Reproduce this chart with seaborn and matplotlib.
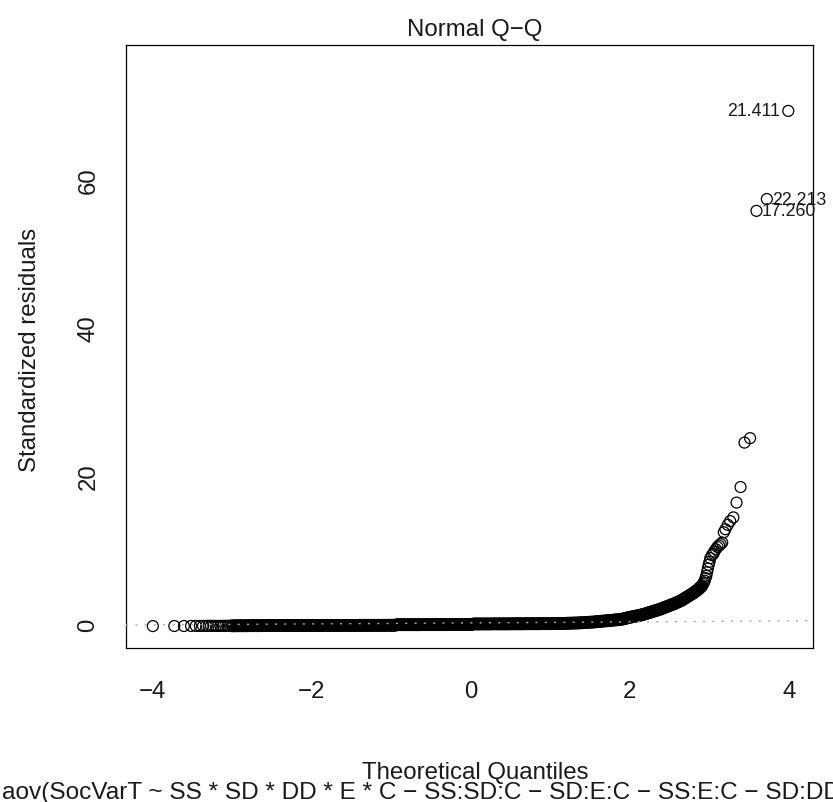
import matplotlib
matplotlib.use("Agg")
import matplotlib.pyplot as plt
import seaborn as sns
import pandas as pd

# ---------------- data ----------------
# left tail (individual circles)
tail_left_x = [-3.99, -3.72, -3.60, -3.51, -3.45, -3.40, -3.36, -3.32, -3.29, -3.26, -3.23]
tail_left_y = [-0.28, -0.27, -0.27, -0.26, -0.26, -0.26, -0.26, -0.25, -0.25, -0.25, -0.25]

# dense central band
band_x = [-3.20, -3.17, -3.14, -3.11, -3.08, -3.05, -3.02, -2.99, -2.96, -2.93,
          -2.90, -2.87, -2.84, -2.81, -2.78, -2.75, -2.72, -2.69, -2.66, -2.63,
          -2.60, -2.57, -2.54, -2.51, -2.48, -2.45, -2.42, -2.39, -2.36, -2.33,
          -2.30, -2.27, -2.24, -2.21, -2.18, -2.15, -2.12, -2.09, -2.06, -2.03,
          -2.00, -1.97, -1.94, -1.91, -1.88, -1.85, -1.82, -1.79, -1.76, -1.73,
          -1.70, -1.67, -1.64, -1.61, -1.58, -1.55, -1.52, -1.49, -1.46, -1.43,
          -1.40, -1.37, -1.34, -1.31, -1.28, -1.25, -1.22, -1.19, -1.16, -1.13,
          -1.10, -1.07, -1.04, -1.01, -0.98, -0.95, -0.92, -0.89, -0.86, -0.83,
          -0.80, -0.77, -0.74, -0.71, -0.68, -0.65, -0.62, -0.59, -0.56, -0.53,
          -0.50, -0.47, -0.44, -0.41, -0.38, -0.35, -0.32, -0.29, -0.26, -0.23,
          -0.20, -0.17, -0.14, -0.11, -0.08, -0.05, -0.02, 0.01, 0.04, 0.07,
          0.10, 0.13, 0.16, 0.19, 0.22, 0.25, 0.28, 0.31, 0.34, 0.37,
          0.40, 0.43, 0.46, 0.49, 0.52, 0.55, 0.58, 0.61, 0.64, 0.67,
          0.70, 0.73, 0.76, 0.79, 0.82, 0.85, 0.88, 0.91, 0.94, 0.97,
          1.00, 1.03, 1.06, 1.09, 1.12, 1.15, 1.18, 1.21, 1.24, 1.27,
          1.30, 1.33, 1.36, 1.39, 1.42, 1.45, 1.48, 1.51, 1.54, 1.57,
          1.60, 1.63, 1.66, 1.69, 1.72, 1.75, 1.78, 1.81, 1.84]
band_y = [-0.26, -0.26, -0.25, -0.25, -0.25, -0.24, -0.24, -0.24, -0.24, -0.23,
          -0.23, -0.23, -0.23, -0.23, -0.22, -0.22, -0.22, -0.22, -0.22, -0.22,
          -0.21, -0.21, -0.21, -0.21, -0.21, -0.21, -0.21, -0.21, -0.21, -0.21,
          -0.20, -0.20, -0.20, -0.20, -0.20, -0.20, -0.20, -0.20, -0.20, -0.20,
          -0.20, -0.20, -0.20, -0.20, -0.20, -0.19, -0.19, -0.19, -0.19, -0.19,
          -0.19, -0.19, -0.19, -0.19, -0.19, -0.19, -0.19, -0.19, -0.19, -0.19,
          -0.18, -0.18, -0.18, -0.18, -0.18, -0.18, -0.18, -0.18, -0.18, -0.18,
          -0.18, -0.18, -0.17, -0.17, -0.17, -0.17,
          -0.09, -0.09, -0.09, -0.09, -0.09, -0.09, -0.09, -0.09, -0.09, -0.09,
          -0.08, -0.08, -0.08, -0.08, -0.08, -0.08, -0.08, -0.08, -0.08, -0.08,
          -0.08, -0.08, -0.07, -0.07, -0.07, -0.07, -0.07, -0.07, -0.07, -0.07,
          -0.07, -0.07,
          0.01, 0.01, 0.01, 0.01, 0.01, 0.01, 0.01, 0.01, 0.02, 0.02,
          0.02, 0.02, 0.02, 0.02, 0.02, 0.02, 0.03, 0.03, 0.03, 0.03,
          0.03, 0.03, 0.04, 0.04, 0.04, 0.04, 0.04, 0.04, 0.05, 0.05,
          0.05, 0.05, 0.05, 0.06, 0.06, 0.06, 0.07, 0.07, 0.08,
          0.10, 0.11, 0.12, 0.13, 0.14, 0.15, 0.17, 0.19, 0.21, 0.23,
          0.25, 0.27, 0.30, 0.33, 0.36, 0.39, 0.42, 0.45, 0.48, 0.51,
          0.54, 0.57]

# rising curve of the upper tail
curve_x = [1.87, 1.90, 1.93, 1.96, 1.99, 2.02, 2.05, 2.08, 2.11, 2.14,
           2.17, 2.20, 2.23, 2.26, 2.29, 2.32, 2.35, 2.38, 2.41, 2.44,
           2.47, 2.50, 2.53, 2.56, 2.59, 2.62, 2.65, 2.68, 2.71, 2.74,
           2.77, 2.80, 2.83, 2.86, 2.88, 2.90]
curve_y = [0.60, 0.65, 0.72, 0.80, 0.88, 0.95, 1.02, 1.08, 1.15, 1.22,
           1.30, 1.40, 1.50, 1.60, 1.70, 1.80, 1.90, 2.00, 2.12, 2.25,
           2.38, 2.50, 2.63, 2.75, 2.90, 3.05, 3.20, 3.40, 3.60, 3.80,
           4.00, 4.20, 4.45, 4.70, 4.90, 5.10]

# individual circles of the upper tail
tail_right_x = [2.92, 2.93, 2.94, 2.95, 2.96, 2.97, 2.98, 2.99, 3.00, 3.01,
                3.03, 3.05, 3.06, 3.08, 3.10, 3.12, 3.14, 3.16, 3.18, 3.20,
                3.23, 3.26, 3.30, 3.34, 3.39, 3.44, 3.51, 3.59, 3.72, 3.99]
tail_right_y = [5.4, 5.6, 5.85, 6.2, 6.5, 7.0, 7.5, 8.0, 8.4, 8.9,
                9.3, 9.5, 9.8, 10.1, 10.4, 10.6, 10.8, 11.0, 12.4, 12.8,
                13.4, 13.9, 14.4, 16.4, 18.5, 24.5, 25.1, 55.8, 57.4, 69.3]

# labelled observations
id_labels = ["21.411", "22.213", "17.260"]
id_x = [3.99, 3.72, 3.59]
id_y = [69.3, 57.4, 55.8]
id_side = ["left", "right", "right"]

# reference line (qqline)
qq_intercept = 0.15
qq_slope = 0.068

x_ticks = [-4, -2, 0, 2, 4]
y_ticks = [0, 20, 40, 60]

title = "Normal Q\u2212Q"
x_label = "Theoretical Quantiles"
y_label = "Standardized residuals"
sub_caption = ("aov(SocVarT ~ SS * SD * DD * E * C \u2212 SS:SD:C \u2212 SD:E:C "
               "\u2212 SS:E:C \u2212 SD:DD")

# ---------------- drawing ----------------
sns.set_style("white")
plt.rcParams["font.family"] = ["Liberation Sans", "DejaVu Sans"]
plt.rcParams["axes.unicode_minus"] = True

df = pd.DataFrame({
    "x": tail_left_x + band_x + curve_x + tail_right_x,
    "y": tail_left_y + band_y + curve_y + tail_right_y,
})
# where thousands of points overlap, the rings merge into a solid band
dense = df[(df["x"] > -3.02) & (df["x"] < 2.91)]

W, H = 833, 803
fig = plt.figure(figsize=(W / 100, H / 100), dpi=100)
left, right, top, bottom = 126, 813, 46, 649
ax = fig.add_axes([left / W, 1 - bottom / H, (right - left) / W, (bottom - top) / H])

sns.scatterplot(data=df, x="x", y="y", ax=ax, marker="o", s=62,
                facecolors="none", edgecolor="black", linewidth=0.9, zorder=2)
sns.scatterplot(data=dense, x="x", y="y", ax=ax, marker="o", s=52,
                facecolors="none", edgecolor="black", linewidth=2.1, zorder=2)

ax.axline((0, qq_intercept), slope=qq_slope, color="#A8A8A8", lw=1.0,
          linestyle=(0, (1.5, 5.2)), zorder=3)

for lab, xx, yy, side in zip(id_labels, id_x, id_y, id_side):
    if side == "left":
        ax.annotate(lab, (xx, yy), xytext=(-6, 0), textcoords="offset points",
                    ha="right", va="center", fontsize=12.8, color="#1a1a1a")
    else:
        ax.annotate(lab, (xx, yy), xytext=(4, 0), textcoords="offset points",
                    ha="left", va="center", fontsize=12.8, color="#1a1a1a")

ax.set_xlim(-4.327, 4.30)
ax.set_ylim(-3.24, 78.2)
ax.set_xticks(x_ticks)
ax.set_yticks(y_ticks)
ax.set_xticklabels([f"{t}".replace("-", "\u2212") for t in x_ticks])
ax.set_yticklabels([str(t) for t in y_ticks], rotation=90, va="center")
ax.tick_params(axis="both", direction="out", length=10, width=0.8,
               color="black", labelsize=17.3, labelcolor="#1a1a1a")
ax.tick_params(axis="x", pad=13)
ax.tick_params(axis="y", pad=9)
ax.set_xlabel("")
ax.set_ylabel("")
for sp in ax.spines.values():
    sp.set_color("black")
    sp.set_linewidth(0.9)
    sp.set_visible(True)

fig.text(475 / W, 1 - 30 / H, title, ha="center", va="center", fontsize=17.3, color="#1a1a1a")
fig.text(475 / W, 1 - 773 / H, x_label, ha="center", va="center", fontsize=17.3, color="#1a1a1a")
fig.text(30 / W, 1 - 350 / H, y_label, ha="center", va="center", rotation=90,
         fontsize=17.3, color="#1a1a1a")
fig.text(2 / W, 1 - 793 / H, sub_caption, ha="left", va="center", fontsize=17.6, color="#1a1a1a")

fig.savefig("out.png", dpi=100, facecolor="white")
